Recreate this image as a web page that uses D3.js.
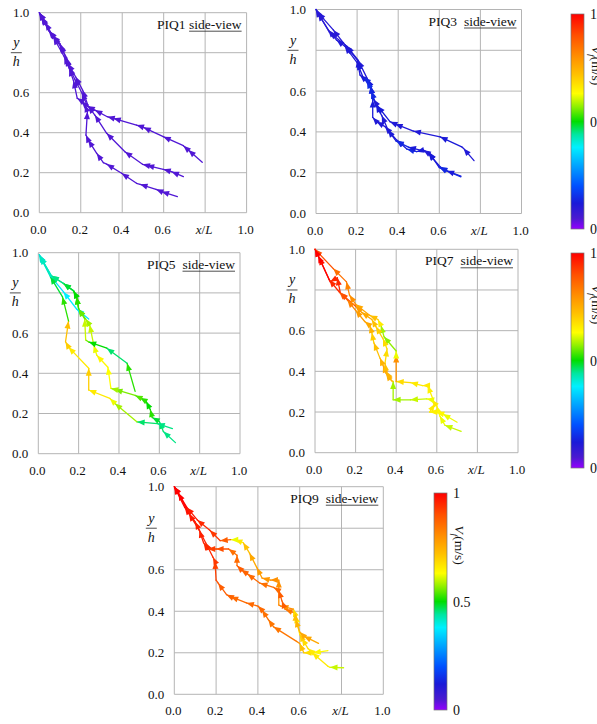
<!DOCTYPE html>
<html>
<head>
<meta charset="utf-8">
<script src="https://cdn.jsdelivr.net/npm/d3@7"></script>
<style>
  body { margin: 0; background: #fff; }
  svg { display: block; }
  text { font-family: "Liberation Serif", "Times New Roman", serif; fill: #111; }
</style>
</head>
<body>
<svg id="chart" width="597" height="724"></svg>
<script>
// ---- data ----
const xTickValues = [0, 0.2, 0.4, 0.6, 0.8, 1.0];
const xTickLabels = ["0.0", "0.2", "0.4", "0.6", "x/L", "1.0"];
const yTickValues = [0, 0.2, 0.4, 0.6, 0.8, 1.0];
const yTickLabels = ["0.0", "0.2", "0.4", "0.6", "y/h", "1.0"];
const panelNames = ["PIQ1", "PIQ3", "PIQ5", "PIQ7", "PIQ9"];
const barTicks = [0, 0.5, 1];
const barTickLabels = ["0", "0.5", "1"];

// colour map V (m/s) -> colour
const stopValues = [0, 0.05, 0.12, 0.2, 0.3, 0.38, 0.44, 0.5, 0.57, 0.63, 0.72, 0.8, 0.9, 1];
const stopColors = ["#9400ff", "#4a1ad0", "#1a1ad8", "#0050ff", "#00a8ff", "#00f0ff", "#00e6a0",
                    "#00dd00", "#90f000", "#ffff00", "#ffc000", "#ff9000", "#ff5000", "#ff0000"];

// trajectories: [x/L, y/h, V]
const piq1Tracks = [
  [[0.786,0.252,0.045],[0.719,0.313,0.045],[0.695,0.335,0.045],[0.598,0.38,0.045],[0.502,0.427,0.045],[0.469,0.438,0.045],[0.357,0.472,0.045],[0.328,0.48,0.045],[0.268,0.513,0.045],[0.232,0.533,0.045],[0.205,0.6,0.045],[0.17,0.67,0.045],[0.145,0.725,0.045],[0.13,0.77,0.045],[0.1,0.845,0.045],[0.065,0.885,0.045],[0.045,0.91,0.045],[0.015,0.975,0.045],[0,1,0.045]],
  [[0.695,0.18,0.045],[0.638,0.205,0.045],[0.598,0.217,0.045],[0.518,0.237,0.045],[0.498,0.242,0.045],[0.413,0.305,0.045],[0.325,0.397,0.045],[0.268,0.488,0.045],[0.236,0.533,0.045],[0.209,0.613,0.045],[0.175,0.68,0.045],[0.14,0.745,0.045],[0.132,0.775,0.045],[0.1,0.835,0.045],[0.07,0.88,0.045],[0.05,0.905,0.045],[0.01,0.98,0.045],[0,1,0.045]],
  [[0.666,0.08,0.045],[0.59,0.105,0.045],[0.563,0.117,0.045],[0.486,0.142,0.045],[0.469,0.147,0.045],[0.397,0.197,0.045],[0.325,0.243,0.045],[0.309,0.25,0.045],[0.277,0.297,0.045],[0.236,0.363,0.045],[0.225,0.388,0.045],[0.232,0.505,0.045],[0.22,0.54,0.045],[0.204,0.558,0.045],[0.183,0.572,0.045],[0.165,0.66,0.045],[0.145,0.72,0.045],[0.12,0.78,0.045],[0.068,0.877,0.045],[0.03,0.95,0.045],[0,1,0.045]]
];

const piq3Tracks = [
  [[0.769,0.259,0.11],[0.718,0.319,0.11],[0.709,0.327,0.11],[0.604,0.376,0.12],[0.474,0.404,0.11],[0.385,0.439,0.11],[0.36,0.45,0.11],[0.3,0.527,0.12],[0.28,0.56,0.11],[0.266,0.625,0.11],[0.245,0.651,0.14],[0.214,0.679,0.12],[0.201,0.753,0.11],[0.141,0.827,0.11],[0.084,0.9,0.1],[0.01,0.985,0.1],[0,1,0.1]],
  [[0.705,0.183,0.11],[0.636,0.209,0.12],[0.604,0.229,0.14],[0.547,0.295,0.12],[0.523,0.311,0.11],[0.49,0.303,0.12],[0.442,0.316,0.14],[0.393,0.36,0.12],[0.336,0.426,0.11],[0.295,0.45,0.11],[0.276,0.471,0.11],[0.276,0.556,0.12],[0.266,0.625,0.14],[0.25,0.66,0.12],[0.206,0.75,0.11],[0.15,0.82,0.11],[0.065,0.889,0.1],[0,1,0.1]],
  [[0.705,0.18,0.12],[0.6,0.225,0.14],[0.55,0.3,0.12],[0.45,0.325,0.12],[0.39,0.355,0.14],[0.35,0.41,0.12],[0.32,0.48,0.11],[0.292,0.532,0.12],[0.27,0.6,0.14],[0.25,0.65,0.15],[0.23,0.665,0.14],[0.2,0.74,0.12],[0.14,0.82,0.11],[0.1,0.85,0.11],[0.06,0.9,0.1],[0.01,0.98,0.1],[0,1,0.1]]
];

const piq5Tracks = [
  [[0.25,0.67,0.36],[0.19,0.72,0.37],[0.125,0.805,0.38],[0.06,0.885,0.36],[0.005,0.99,0.33]],
  [[0.68,0.055,0.43],[0.62,0.11,0.45],[0.6,0.16,0.46],[0.565,0.18,0.48],[0.555,0.22,0.52],[0.535,0.26,0.5],[0.505,0.278,0.52],[0.48,0.29,0.54],[0.38,0.32,0.56],[0.36,0.325,0.58],[0.345,0.43,0.63],[0.29,0.49,0.64],[0.275,0.54,0.62],[0.255,0.64,0.6],[0.235,0.67,0.58],[0.2,0.72,0.55],[0.19,0.78,0.52],[0.175,0.81,0.5],[0.125,0.847,0.48],[0.065,0.885,0.46],[0.01,0.98,0.42]],
  [[0.665,0.125,0.44],[0.59,0.15,0.45],[0.49,0.158,0.46],[0.38,0.25,0.58],[0.355,0.275,0.62],[0.25,0.317,0.66],[0.25,0.425,0.7],[0.15,0.53,0.66],[0.135,0.557,0.7],[0.15,0.66,0.72],[0.12,0.78,0.52],[0.06,0.88,0.48],[0.005,0.99,0.42]],
  [[0.48,0.31,0.55],[0.44,0.45,0.52],[0.34,0.525,0.46],[0.25,0.556,0.5],[0.235,0.566,0.55],[0.23,0.67,0.6],[0.2,0.72,0.55],[0.19,0.78,0.52],[0.175,0.81,0.5],[0.125,0.847,0.48],[0.065,0.885,0.45],[0.01,0.98,0.42]]
];

const piq7Tracks = [
  [[0.72,0.105,0.6],[0.64,0.135,0.6],[0.615,0.18,0.62],[0.6,0.23,0.64],[0.575,0.26,0.66],[0.55,0.265,0.62],[0.47,0.26,0.6],[0.385,0.26,0.58],[0.385,0.35,0.58],[0.37,0.36,0.7],[0.35,0.39,0.75],[0.335,0.43,0.76],[0.32,0.465,0.74],[0.29,0.54,0.72],[0.28,0.59,0.7],[0.27,0.625,0.74],[0.245,0.645,0.76],[0.2,0.7,0.78],[0.16,0.75,0.82],[0.12,0.79,0.88],[0.07,0.85,0.95],[0.02,0.96,0.98],[0,1,1]],
  [[0.7,0.15,0.6],[0.63,0.19,0.62],[0.6,0.2,0.64],[0.565,0.2,0.65],[0.59,0.24,0.66],[0.555,0.33,0.65],[0.53,0.33,0.66],[0.47,0.345,0.66],[0.4,0.35,0.68],[0.4,0.48,0.8],[0.4,0.5,0.62],[0.34,0.57,0.57],[0.325,0.625,0.58],[0.31,0.655,0.66],[0.27,0.675,0.72],[0.2,0.73,0.76],[0.17,0.775,0.8],[0.155,0.84,0.82],[0.09,0.905,0.85],[0,1,0.9]],
  [[0.38,0.35,0.7],[0.35,0.4,0.74],[0.345,0.44,0.72],[0.355,0.51,0.68],[0.335,0.56,0.68],[0.3,0.62,0.7],[0.28,0.655,0.72],[0.23,0.69,0.76],[0.2,0.72,0.78],[0.125,0.785,0.9],[0.11,0.86,0.95],[0.075,0.84,0.95],[0.015,0.97,1],[0,1,1]]
];

const piq9Tracks = [
  [[0.81,0.128,0.58],[0.745,0.13,0.6],[0.735,0.135,0.65],[0.66,0.2,0.66],[0.62,0.2,0.68],[0.6,0.245,0.72],[0.585,0.255,0.8],[0.475,0.325,0.84],[0.45,0.36,0.84],[0.42,0.405,0.85],[0.4,0.425,0.86],[0.345,0.44,0.86],[0.27,0.47,0.86],[0.25,0.48,0.87],[0.21,0.535,0.88],[0.2,0.55,0.9],[0.195,0.64,0.92],[0.185,0.66,0.93],[0.15,0.73,0.95],[0.1,0.83,0.96],[0.05,0.9,0.98],[0,1,1]],
  [[0.735,0.21,0.62],[0.665,0.2,0.64],[0.64,0.22,0.66],[0.61,0.27,0.68],[0.6,0.29,0.7],[0.58,0.38,0.66],[0.57,0.41,0.68],[0.51,0.425,0.8],[0.5,0.43,0.84],[0.5,0.55,0.8],[0.46,0.55,0.8],[0.42,0.56,0.79],[0.395,0.61,0.78],[0.36,0.68,0.76],[0.33,0.73,0.72],[0.29,0.745,0.66],[0.27,0.745,0.62],[0.22,0.74,0.88],[0.17,0.79,0.93],[0.11,0.84,0.95],[0.06,0.9,0.97],[0,1,1]],
  [[0.69,0.245,0.78],[0.62,0.28,0.76],[0.6,0.3,0.76],[0.58,0.36,0.74],[0.58,0.39,0.72],[0.53,0.41,0.84],[0.515,0.45,0.88],[0.5,0.5,0.88],[0.475,0.515,0.86],[0.41,0.535,0.85],[0.35,0.58,0.86],[0.32,0.6,0.87],[0.3,0.62,0.88],[0.3,0.67,0.86],[0.26,0.7,0.85],[0.2,0.7,0.9],[0.16,0.7,0.92],[0.14,0.73,0.95],[0.12,0.79,0.96],[0.07,0.87,0.97],[0.02,0.97,1],[0,1,1]]
];

const allTracks = [piq1Tracks, piq3Tracks, piq5Tracks, piq7Tracks, piq9Tracks];

// ---- layout ----
const boxes = [
  {left: 39.3, top: 12.7, w: 207.3, h: 200, gap: 1},
  {left: 316, top: 9.5, w: 205.5, h: 204, gap: 2},
  {left: 38.3, top: 252.7, w: 201.7, h: 201, gap: 2},
  {left: 315, top: 249.3, w: 203, h: 203.4, gap: 2},
  {left: 174.3, top: 486.7, w: 209, h: 207.6, gap: 2}
];
const bars = [
  {x: 571, top: 14, h: 215},
  {x: 571, top: 253, h: 215},
  {x: 434, top: 493, h: 217}
];

const svg = d3.select("#chart");
const color = d3.scaleLinear().domain(stopValues).range(stopColors).clamp(true);

function arrowPath(x1, y1, x2, y2) {
  const a = Math.atan2(y2 - y1, x2 - x1);
  const L = 7.5, W = 3;
  const c = Math.cos(a), s = Math.sin(a);
  const bx = x2 - L * c, by = y2 - L * s;
  return "M" + x2 + "," + y2 + "L" + (bx - W * s) + "," + (by + W * c) +
         "L" + (bx + W * s) + "," + (by - W * c) + "Z";
}

boxes.forEach((b, i) => {
  const x = d3.scaleLinear().domain([0, 1]).range([b.left, b.left + b.w]);
  const y = d3.scaleLinear().domain([0, 1]).range([b.top + b.h, b.top]);
  const g = svg.append("g");

  // grid
  g.selectAll(".vg").data(xTickValues).enter().append("line")
    .attr("x1", d => x(d)).attr("x2", d => x(d))
    .attr("y1", y(0)).attr("y2", y(1))
    .attr("stroke", "#b4b4b4").attr("stroke-width", 1);
  g.selectAll(".hg").data(yTickValues).enter().append("line")
    .attr("x1", x(0)).attr("x2", x(1))
    .attr("y1", d => y(d)).attr("y2", d => y(d))
    .attr("stroke", "#b4b4b4").attr("stroke-width", 1);

  // x tick labels
  xTickValues.forEach((v, k) => {
    const t = g.append("text")
      .attr("x", x(v) - 1).attr("y", y(0) + 21)
      .attr("text-anchor", "middle")
      .style("font-size", "13px");
    if (xTickLabels[k] === "x/L") {
      t.append("tspan").style("font-style", "italic").text("x");
      t.append("tspan").text("/");
      t.append("tspan").style("font-style", "italic").text("L");
    } else t.text(xTickLabels[k]);
  });

  // y tick labels
  yTickValues.forEach((v, k) => {
    if (yTickLabels[k] === "y/h") {
      const cx = x(0) - 23;
      g.append("text").attr("x", cx).attr("y", y(v) - 5.5)
        .attr("text-anchor", "middle").style("font-size", "14px").style("font-style", "italic").text("y");
      g.append("text").attr("x", cx).attr("y", y(v) + 13.5)
        .attr("text-anchor", "middle").style("font-size", "14px").style("font-style", "italic").text("h");
      g.append("line").attr("x1", cx - 5.5).attr("x2", cx + 5.5)
        .attr("y1", y(v)).attr("y2", y(v)).attr("stroke", "#222").attr("stroke-width", 0.8);
    } else {
      g.append("text").attr("x", x(0) - 10).attr("y", y(v) + 4.5)
        .attr("text-anchor", "end").style("font-size", "13px").text(yTickLabels[k]);
    }
  });

  // title
  const sv = g.append("text").attr("x", x(1) - 5).attr("y", y(1) + 16)
    .attr("text-anchor", "end").style("font-size", "13.5px").text("side-view");
  const sw = sv.node().getComputedTextLength();
  g.append("line").attr("x1", x(1) - 5 - sw).attr("x2", x(1) - 5)
    .attr("y1", y(1) + 18.5).attr("y2", y(1) + 18.5)
    .attr("stroke", "#222").attr("stroke-width", 0.8);
  g.append("text").attr("x", x(1) - 5 - sw - 3.5 * b.gap).attr("y", y(1) + 16)
    .attr("text-anchor", "end").style("font-size", "13.5px").text(panelNames[i]);

  // trajectories
  const segs = [];
  allTracks[i].forEach(tr => {
    for (let k = 1; k < tr.length; k++) segs.push({a: tr[k - 1], b: tr[k]});
  });
  g.selectAll(".seg").data(segs).enter().append("line")
    .attr("x1", d => x(d.a[0])).attr("y1", d => y(d.a[1]))
    .attr("x2", d => x(d.b[0])).attr("y2", d => y(d.b[1]))
    .attr("stroke", d => color(d.b[2])).attr("stroke-width", 1.3)
    .attr("stroke-linecap", "round");
  g.selectAll(".arr").data(segs.filter(d => Math.hypot(x(d.b[0]) - x(d.a[0]), y(d.b[1]) - y(d.a[1])) > 4))
    .enter().append("path")
    .attr("d", d => arrowPath(x(d.a[0]), y(d.a[1]), x(d.b[0]), y(d.b[1])))
    .attr("fill", d => color(d.b[2]));
});

// colour bars
const grad = svg.append("defs").append("linearGradient")
  .attr("id", "vgrad").attr("x1", 0).attr("y1", 1).attr("x2", 0).attr("y2", 0);
grad.selectAll("stop").data(stopValues).enter().append("stop")
  .attr("offset", d => d).attr("stop-color", (d, k) => stopColors[k]);

bars.forEach(cb => {
  const s = d3.scaleLinear().domain([0, 1]).range([cb.top + cb.h, cb.top]);
  const g = svg.append("g");
  g.append("rect").attr("x", cb.x).attr("y", cb.top).attr("width", 13).attr("height", cb.h)
    .attr("fill", "url(#vgrad)").attr("stroke", "#777").attr("stroke-width", 0.7);
  g.selectAll(".bt").data(barTicks).enter().append("text")
    .attr("x", cb.x + 19).attr("y", d => s(d) + 5)
    .style("font-size", "14px")
    .text((d, k) => barTickLabels[k]);
  const lab = g.append("text")
    .attr("transform", "translate(" + (cb.x + 21) + "," + (s(0.76)) + ") rotate(90)")
    .attr("text-anchor", "middle").style("font-size", "13.5px");
  lab.append("tspan").style("font-style", "italic").text("V");
  lab.append("tspan").attr("dy", 3).style("font-size", "9px").style("font-style", "italic").text("f");
  lab.append("tspan").attr("dy", -3).text("(m/s)");
});
</script>
</body>
</html>
